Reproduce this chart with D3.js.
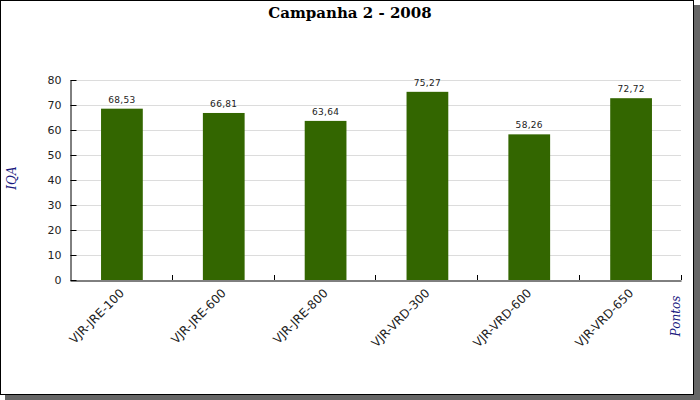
<!DOCTYPE html>
<html><head><meta charset="utf-8">
<script src="https://cdn.jsdelivr.net/npm/d3@7"></script>
<style>html,body{margin:0;padding:0;background:#fff;}</style>
</head><body>
<svg id="c" width="700" height="400"></svg>
<script>
const categories = ["VJR-JRE-100","VJR-JRE-600","VJR-JRE-800","VJR-VRD-300","VJR-VRD-600","VJR-VRD-650"];
const values = [68.53, 66.81, 63.64, 75.27, 58.26, 72.72];
const yTicks = [0,10,20,30,40,50,60,70,80];
const title = "Campanha 2 - 2008";
const yTitle = "IQA";
const xTitle = "Pontos";

const svg = d3.select("#c");
// shadow + frame
svg.append("rect").attr("x",5).attr("y",5).attr("width",695).attr("height",395).attr("fill","#666");
svg.append("rect").attr("x",0.5).attr("y",0.5).attr("width",693).attr("height",394).attr("fill","#fff").attr("stroke","#000").attr("stroke-width",1);

const L=70, R=681, T=80, B=280;
const x = d3.scaleBand().domain(categories).range([L,R]).paddingInner(0).paddingOuter(0);
const y = d3.scaleLinear().domain([0,80]).range([B,T]);

// gridlines
svg.append("g").selectAll("line").data(yTicks.filter(d=>d>0)).join("line")
  .attr("x1",L).attr("x2",R).attr("y1",d=>Math.round(y(d))+0.5).attr("y2",d=>Math.round(y(d))+0.5)
  .attr("stroke","#dcdcdc").attr("stroke-width",1);

// bars
const bw = x.bandwidth()*0.41;
svg.append("g").selectAll("rect").data(values).join("rect")
  .attr("x",(d,i)=>x(categories[i])+x.bandwidth()/2-bw/2+1)
  .attr("width",bw)
  .attr("y",d=>y(d)).attr("height",d=>B-y(d))
  .attr("fill","#336600");

// value labels
svg.append("g").selectAll("text").data(values).join("text")
  .attr("x",(d,i)=>x(categories[i])+x.bandwidth()/2+1)
  .attr("y",d=>y(d)-6)
  .attr("text-anchor","middle")
  .attr("font-family","DejaVu Sans, Verdana, sans-serif").attr("font-size",9).attr("letter-spacing",0.3).attr("fill","#222")
  .text(d=>d.toFixed(2).replace(".",","));

// y axis
const yAxis = d3.axisLeft(y).tickValues(yTicks).tickSizeInner(-6).tickSizeOuter(0).tickPadding(9);
const gy = svg.append("g").attr("transform",`translate(${L+0.5},0)`).call(yAxis);
gy.select(".domain").attr("stroke","#000");
gy.selectAll(".tick line").attr("stroke","#000");
gy.selectAll(".tick text").attr("font-family","DejaVu Sans, Verdana, sans-serif").attr("font-size",11).attr("fill","#222");

// x axis
const xAxis = d3.axisBottom(x).tickSize(0).tickFormat("");
const gx = svg.append("g").attr("transform",`translate(0,${B+0.5})`).call(xAxis);
gx.select(".domain").attr("stroke","#000");
gx.selectAll(".tick").remove();
const bounds = categories.map(c=>x(c)+x.bandwidth());
svg.append("g").selectAll("line").data(bounds).join("line")
  .attr("x1",d=>Math.round(d)+0.5).attr("x2",d=>Math.round(d)+0.5)
  .attr("y1",B).attr("y2",B-5).attr("stroke","#000");

// x labels
svg.append("g").selectAll("text").data(categories).join("text")
  .attr("transform",d=>`translate(${x(d)+x.bandwidth()/2+1},${B+11}) rotate(-45)`)
  .attr("text-anchor","end")
  .attr("dy","0.35em")
  .attr("font-family","DejaVu Sans, Verdana, sans-serif").attr("font-size",12).attr("fill","#222")
  .text(d=>d);

// title
svg.append("text").attr("x",350).attr("y",18).attr("text-anchor","middle")
  .attr("font-family","DejaVu Serif, Georgia, serif").attr("font-weight","bold").attr("font-size",15).attr("fill","#000")
  .text(title);

// axis titles
svg.append("text").attr("transform","translate(16,178) rotate(-90)").attr("text-anchor","middle")
  .attr("font-family","DejaVu Serif, Georgia, serif").attr("font-style","italic").attr("font-size",12).attr("fill","#1a1a80")
  .text(yTitle);
svg.append("text").attr("transform","translate(680,316) rotate(-90)").attr("text-anchor","middle")
  .attr("font-family","DejaVu Serif, Georgia, serif").attr("font-style","italic").attr("font-size",12).attr("fill","#1a1a80")
  .text(xTitle);
</script>
</body></html>
